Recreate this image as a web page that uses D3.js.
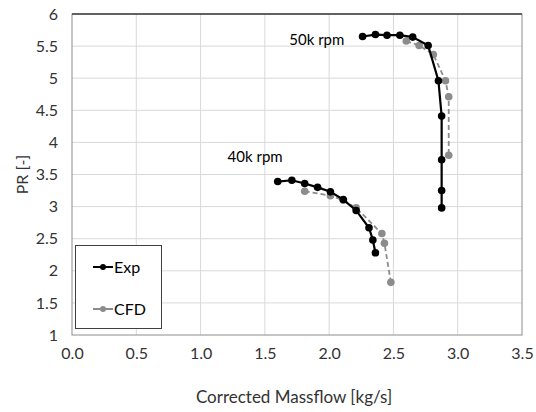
<!DOCTYPE html>
<html><head><meta charset="utf-8">
<script src="https://cdn.jsdelivr.net/npm/d3@7/dist/d3.min.js"></script>
<style>body{margin:0;background:#fff}svg{display:block}text{font-family:Lato,"Open Sans",sans-serif}</style>
</head><body><svg id="c" width="536" height="412"></svg>
<script>
const xTicks = [0,0.5,1,1.5,2,2.5,3,3.5];
const yTicks = [1,1.5,2,2.5,3,3.5,4,4.5,5,5.5,6];
const exp50 = [[2.26,5.65],[2.36,5.68],[2.45,5.67],[2.55,5.67],[2.65,5.64],[2.77,5.51],[2.85,4.96],[2.875,4.41],[2.875,3.73],[2.875,3.25],[2.875,2.98]];
const cfd50 = [[2.60,5.58],[2.70,5.51],[2.81,5.37],[2.905,4.96],[2.93,4.71],[2.93,3.80]];
const exp40 = [[1.60,3.39],[1.71,3.41],[1.81,3.36],[1.91,3.30],[2.01,3.23],[2.11,3.11],[2.21,2.94],[2.31,2.67],[2.34,2.48],[2.36,2.28]];
const cfd40 = [[1.81,3.24],[2.01,3.17],[2.11,3.10],[2.21,2.98],[2.41,2.58],[2.43,2.43],[2.48,1.82]];
const speedLabels = [{t:"50k rpm",x:1.69,y:5.52},{t:"40k rpm",x:1.21,y:3.70}];

const svg = d3.select("#c");
const L=72,R=522,T=14,B=335;
const x = d3.scaleLinear().domain([0,3.5]).range([L,R]);
const y = d3.scaleLinear().domain([1,6]).range([B,T]);
const FS = 16;

// gridlines
svg.append("g").selectAll("line").data(xTicks.slice(1,-1)).join("line")
 .attr("x1",d=>x(d)).attr("x2",d=>x(d)).attr("y1",T).attr("y2",B).attr("stroke","#d9d9d9");
svg.append("g").selectAll("line").data(yTicks.slice(1,-1)).join("line")
 .attr("y1",d=>y(d)).attr("y2",d=>y(d)).attr("x1",L).attr("x2",R).attr("stroke","#d9d9d9");
// border
svg.append("rect").attr("x",L).attr("y",T).attr("width",R-L).attr("height",B-T).attr("fill","none").attr("stroke","#8c8c8c");
svg.append("line").attr("x1",L).attr("x2",R).attr("y1",T).attr("y2",T).attr("stroke","#404040").attr("stroke-width",1.5);

// axes
const xa = svg.append("g").attr("transform",`translate(0,${B})`).call(d3.axisBottom(x).tickValues(xTicks).tickFormat(d3.format(".1f")).tickSize(0).tickPadding(13));
const ya = svg.append("g").attr("transform",`translate(${L},0)`).call(d3.axisLeft(y).tickValues(yTicks).tickFormat(d=>String(d)).tickSize(0).tickPadding(14));
[xa,ya].forEach(a=>{a.select(".domain").remove();a.selectAll("text").attr("font-size",FS).attr("fill","#333").style("font-family","Lato,'Open Sans',sans-serif");});

svg.append("text").attr("x",(L+R)/2-3).attr("y",403).attr("text-anchor","middle").attr("font-size",17).attr("fill","#333").text("Corrected Massflow [kg/s]");
svg.append("text").attr("transform",`translate(28,${(T+B)/2}) rotate(-90)`).attr("text-anchor","middle").attr("font-size",FS).attr("fill","#333").text("PR [-]");

const line = d3.line().x(d=>x(d[0])).y(d=>y(d[1]));
function series(data,color,dash,w){
  svg.append("path").datum(data).attr("d",line).attr("fill","none").attr("stroke",color).attr("stroke-width",w).attr("stroke-dasharray",dash);
  svg.append("g").selectAll("circle").data(data).join("circle").attr("cx",d=>x(d[0])).attr("cy",d=>y(d[1])).attr("r",3.8).attr("fill",color);
}
series(cfd50,"#8c8c8c","5,3",1.8);
series(cfd40,"#8c8c8c","5,3",1.8);
series(exp50,"#000","none",2.2);
series(exp40,"#000","none",2.2);

svg.append("g").selectAll("text").data(speedLabels).join("text")
 .attr("x",d=>x(d.x)).attr("y",d=>y(d.y)).attr("font-size",15).attr("fill","#000").text(d=>d.t);

// legend
const lg = svg.append("g");
lg.append("rect").attr("x",75.5).attr("y",245.5).attr("width",86).attr("height",83).attr("fill","#fff").attr("stroke","#404040");
const legItems=[{n:"Exp",c:"#000",yy:267},{n:"CFD",c:"#8c8c8c",yy:309}];
legItems.forEach(it=>{
  lg.append("line").attr("x1",93).attr("x2",113).attr("y1",it.yy).attr("y2",it.yy).attr("stroke",it.c).attr("stroke-width",2);
  lg.append("circle").attr("cx",103).attr("cy",it.yy).attr("r",3).attr("fill",it.c);
  lg.append("text").attr("x",114).attr("y",it.yy+5.5).attr("font-size",FS).attr("fill","#000").text(it.n);
});
</script></body></html>
